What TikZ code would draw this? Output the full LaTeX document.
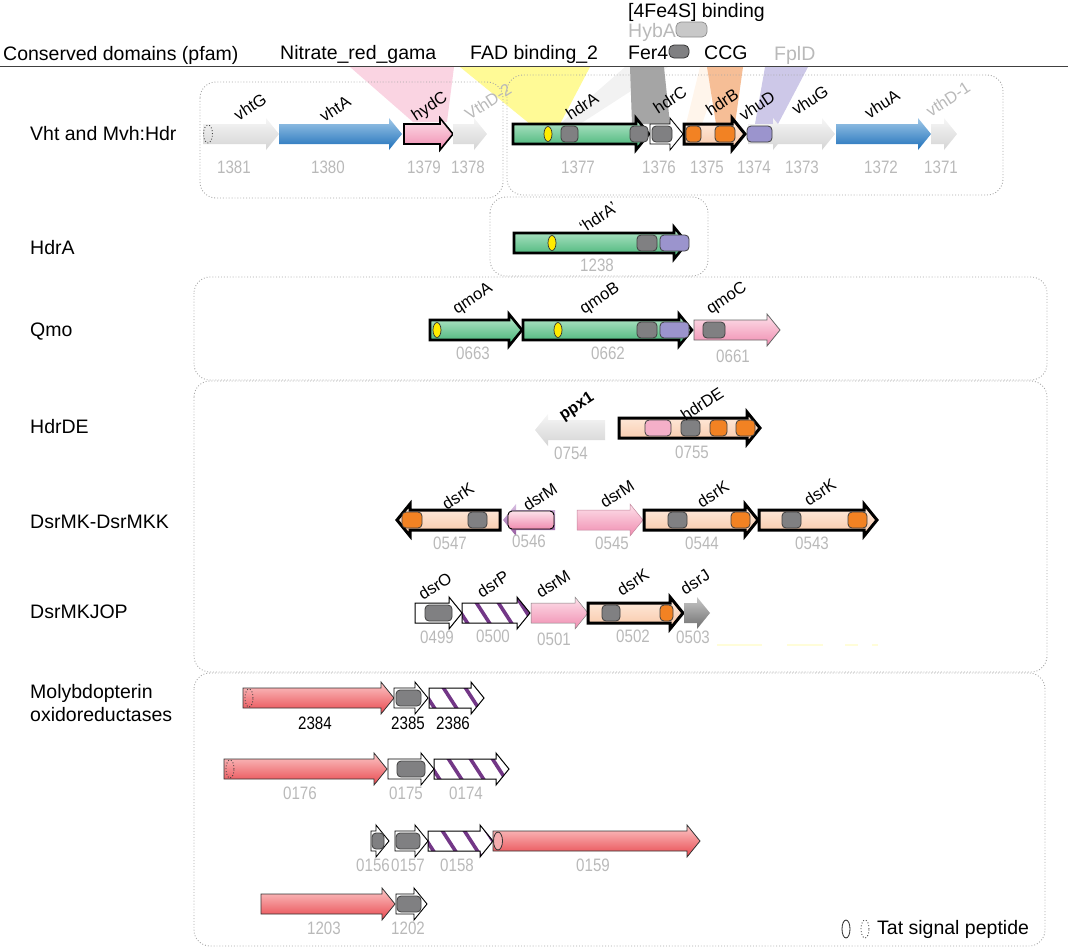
\documentclass[tikz,border=0pt]{standalone}
\usepackage{fontspec}
\setmainfont{Liberation Sans}
\newfontfamily\numfont[FakeStretch=0.84]{Liberation Sans}
\definecolor{grnT}{RGB}{190,234,208}
\definecolor{grnB}{RGB}{60,176,112}
\definecolor{pnkT}{RGB}{253,225,234}
\definecolor{pnkB}{RGB}{240,140,176}
\definecolor{pchT}{RGB}{255,238,226}
\definecolor{pchB}{RGB}{248,198,165}
\definecolor{bluT}{RGB}{160,200,232}
\definecolor{bluB}{RGB}{30,112,186}
\definecolor{gryT}{RGB}{246,246,246}
\definecolor{gryB}{RGB}{212,212,212}
\definecolor{dgrT}{RGB}{200,200,200}
\definecolor{dgrB}{RGB}{110,110,110}
\definecolor{redT}{RGB}{252,200,200}
\definecolor{redB}{RGB}{232,72,78}
\definecolor{prpT}{RGB}{215,190,225}
\definecolor{prpB}{RGB}{150,90,160}
\definecolor{orng}{RGB}{242,130,35}
\definecolor{gbox}{RGB}{128,128,130}
\definecolor{lbox}{RGB}{200,200,200}
\definecolor{pbox}{RGB}{155,148,205}
\definecolor{ylw}{RGB}{255,236,0}
\definecolor{numgrey}{RGB}{185,185,185}
\definecolor{hatchc}{RGB}{115,55,135}
\definecolor{wpink}{RGB}{250,212,226}
\definecolor{wyel}{RGB}{255,250,150}
\definecolor{wgrey}{RGB}{165,165,165}
\definecolor{worng}{RGB}{246,190,150}
\definecolor{wprp}{RGB}{205,200,232}
\newcommand{\rgene}[4][]{\path[#1] (#2,#4-10) -- (#3-13,#4-10) -- (#3-13,#4-16) -- (#3,#4) -- (#3-13,#4+16) -- (#3-13,#4+10) -- (#2,#4+10) -- cycle;}
\newcommand{\lgene}[4][]{\path[#1] (#2,#4) -- (#2+13,#4-16) -- (#2+13,#4-10) -- (#3,#4-10) -- (#3,#4+10) -- (#2+13,#4+10) -- (#2+13,#4+16) -- cycle;}
\newcommand{\hgene}[3]{%
  \begin{scope}
    \clip (#1,#3-10) -- (#2-13,#3-10) -- (#2-13,#3-16) -- (#2,#3) -- (#2-13,#3+16) -- (#2-13,#3+10) -- (#1,#3+10) -- cycle;
    \fill[white] (#1-1,#3-17) rectangle (#2+1,#3+17);
    \foreach \s in {0,22,...,132} {\draw[hatchc, line width=3.6pt] (#1+\s-12,#3-17) -- ++(22,34);}
  \end{scope}
  \rgene[draw=black, line width=1pt]{#1}{#2}{#3}}
\newcommand{\ibox}[4]{\draw[draw=black!75, line width=0.8pt, rounded corners=4pt, fill=#4] (#1,#3-8) rectangle (#2,#3+8);}
\newcommand{\yoval}[2]{\draw[draw=black!80, line width=0.7pt, fill=ylw] (#1,#2) ellipse [x radius=4pt, y radius=7.5pt];}
\tikzset{
  lab/.style={font=\fontsize{19.5}{23}\selectfont, inner sep=0pt},
  glab/.style={font=\fontsize{16.5}{18}\selectfont, rotate=33, inner sep=0pt},
  num/.style={font=\numfont\fontsize{18}{20}\selectfont, text=numgrey, inner sep=0pt},
  greyg/.style={top color=gryT, bottom color=gryB},
  dgreyg/.style={top color=dgrT, bottom color=dgrB},
  blueg/.style={top color=bluT, bottom color=bluB},
  greeng/.style={top color=grnT, bottom color=grnB},
  pinkg/.style={top color=pnkT, bottom color=pnkB},
  peachg/.style={top color=pchT, bottom color=pchB},
  redg/.style={top color=redT, bottom color=redB, draw=black!80, line width=0.8pt},
  purpg/.style={top color=prpT, bottom color=prpB},
  thickout/.style={draw=black, line width=2.6pt},
  grpbox/.style={draw=gray!70, dotted, line width=0.9pt, rounded corners=16pt},
  tatd/.style={draw=black!75, dotted, line width=0.9pt},
}
\begin{document}
\begin{tikzpicture}[x=1pt, y=-1pt]
\useasboundingbox (0,0) rectangle (1068,951);
% wedges (conserved domains)
\fill[wpink] (350,67) -- (454,67) -- (447,122) -- (413,122) -- cycle;
\fill[wyel] (460,67) -- (590,67) -- (560,124) -- (530,124) -- cycle;
\fill[gray!10] (625,67) -- (668,67) -- (580,124) -- (560,124) -- cycle;
\fill[orange!8] (700,67) -- (722,67) -- (702,124) -- (686,124) -- cycle;
\fill[wgrey] (630,67) -- (664,67) -- (670,124) -- (632,124) -- cycle;
\fill[worng] (707,67) -- (743,67) -- (735,124) -- (716,124) -- cycle;
\fill[wprp] (765,67) -- (808,67) -- (778,124) -- (755,124) -- cycle;
% header
\draw[black!75, line width=1pt] (0,66) -- (1068,66);
\node[lab, anchor=base west] (hcd) at (3,60) {Conserved domains (pfam)};
\node[lab, anchor=base west] (hnr) at (280,59) {Nitrate\_red\_gama};
\node[lab, anchor=base west] (hfad) at (470,59) {FAD binding\_2};
\node[lab, anchor=base west] (hfe) at (628,17) {[4Fe4S] binding};
\node[lab, anchor=base west, text=numgrey] (hhyb) at (628,37) {HybA};
\draw[draw=black!45, fill=lbox, line width=0.7pt, rounded corners=5pt] (676,22) rectangle (707,37);
\node[lab, anchor=base west] (hfer) at (628,59) {Fer4};
\draw[draw=black!80, fill=gbox, line width=0.8pt, rounded corners=5pt] (669,45) rectangle (689,58);
\node[lab, anchor=base west] (hccg) at (704,59) {CCG};
\node[lab, anchor=base west, text=numgrey] (hfpl) at (774,60) {FplD};
% group boxes
\draw[grpbox] (200,82) rectangle (503,198);
\draw[grpbox] (507,75) rectangle (1003,195);
\draw[grpbox] (490,197) rectangle (708,276);
\draw[grpbox] (194,277) rectangle (1047,380);
\draw[grpbox] (194,381) rectangle (1047,672);
\draw[grpbox] (194,673) rectangle (1045,946);
% row labels
\node[lab, anchor=west] (rvht) at (30,134) {Vht and Mvh:Hdr};
\node[lab, anchor=west] (rhdra) at (30,248) {HdrA};
\node[lab, anchor=west] (rqmo) at (30,332) {Qmo};
\node[lab, anchor=west] (rhdrde) at (30,427) {HdrDE};
\node[lab, anchor=west] (rdsrmk) at (30,522) {DsrMK-DsrMKK};
\node[lab, anchor=west] (rdsrmkj) at (30,612) {DsrMKJOP};
\node[lab, anchor=west, align=left] (rmoly) at (30,703) {Molybdopterin\\oxidoreductases};
% ---- Row 1 (y=134)
\rgene[greyg]{203}{279}{134}
\draw[tatd] (208,134) ellipse [x radius=4.5pt, y radius=9pt];
\rgene[blueg]{279}{402}{134}
\rgene[pinkg, draw=black, line width=1.6pt]{404}{453}{134}
\rgene[greyg]{453}{487}{134}
\rgene[greeng, thickout]{513}{649}{134}
\yoval{548}{134}
\ibox{561}{578}{134}{gbox}
\ibox{630}{648}{134}{gbox}
\rgene[fill=white, draw=black, line width=0.9pt]{650}{683}{134}
\ibox{652}{672}{134}{gbox}
\rgene[peachg, draw=black, line width=3pt]{684}{745}{134}
\ibox{686}{701}{134}{orng}
\ibox{715}{735}{134}{orng}
\rgene[greyg]{748}{786}{134}
\ibox{747}{772}{134}{pbox}
\rgene[greyg]{774}{835}{134}
\rgene[blueg]{836}{931}{134}
\rgene[greyg]{931}{957}{134}
\node[glab] (gvhtG) at (250,107) {vhtG};
\node[glab] (gvhtA) at (335,109) {vhtA};
\node[glab] (ghydC) at (430,107) {hydC};
\node[glab, text=numgrey] (gvthD2) at (488,102) {VthD-2};
\node[glab] (ghdrA) at (582,106) {hdrA};
\node[glab] (ghdrC) at (670,100) {hdrC};
\node[glab] (ghdrB) at (722,102) {hdrB};
\node[glab] (gvhuD) at (757,106) {vhuD};
\node[glab] (gvhuG) at (810,100) {vhuG};
\node[glab] (gvhuA) at (882,104) {vhuA};
\node[glab, text=numgrey] (gvthD1) at (948,99) {vthD-1};
\node[num] (n1381) at (234,167) {1381};
\node[num] (n1380) at (328,167) {1380};
\node[num] (n1379) at (424,167) {1379};
\node[num] (n1378) at (468,167) {1378};
\node[num] (n1377) at (578,167) {1377};
\node[num] (n1376) at (659,167) {1376};
\node[num] (n1375) at (707,167) {1375};
\node[num] (n1374) at (754,167) {1374};
\node[num] (n1373) at (802,167) {1373};
\node[num] (n1372) at (881,167) {1372};
\node[num] (n1371) at (941,167) {1371};
% ---- HdrA (y=243)
\rgene[greeng, thickout]{514}{687}{243}
\yoval{552}{243}
\ibox{637}{657}{243}{gbox}
\ibox{660}{689}{243}{pbox}
\node[glab] (ghdrAp) at (598,217) {‘hdrA’};
\node[num] (n1238) at (597,265) {1238};
% ---- Qmo (y=330)
\rgene[greeng, thickout]{430}{522}{330}
\yoval{437}{330}
\rgene[greeng, thickout]{523}{692}{330}
\yoval{558}{330}
\ibox{637}{657}{330}{gbox}
\ibox{660}{689}{330}{pbox}
\rgene[pinkg, draw=black!60, line width=0.8pt]{694}{780}{330}
\ibox{703}{725}{330}{gbox}
\node[glab] (gqmoA) at (473,299) {qmoA};
\node[glab] (gqmoB) at (600,299) {qmoB};
\node[glab] (gqmoC) at (727,299) {qmoC};
\node[num] (n0663) at (473,353) {0663};
\node[num] (n0662) at (608,353) {0662};
\node[num] (n0661) at (733,356) {0661};
% ---- HdrDE (y=428)
\lgene[greyg]{535}{605}{430}
\rgene[peachg, draw=black, line width=3pt]{619}{760}{428}
\ibox{645}{671}{428}{pnkB!70}
\ibox{681}{700}{428}{gbox}
\ibox{710}{727}{428}{orng}
\ibox{736}{755}{428}{orng}
\node[glab, font=\bfseries\fontsize{16}{18}\selectfont] (gppx1) at (577,407) {ppx1};
\node[glab] (ghdrDE) at (702,404) {hdrDE};
\node[num] (n0754) at (571,453) {0754};
\node[num] (n0755) at (692,452) {0755};
% ---- DsrMK-DsrMKK (y=520)
\lgene[peachg, draw=black, line width=3pt]{397}{500}{520}
\ibox{402}{422}{520}{orng}
\ibox{468}{487}{520}{gbox}
\lgene[purpg]{503}{555}{520}
\draw[draw=black, line width=0.9pt, rounded corners=4pt, top color=pnkT, bottom color=pnkB] (508,511) rectangle (554,529);
\rgene[pinkg, draw=pnkB!60!gray, line width=0.5pt]{577}{643}{520}
\rgene[peachg, draw=black, line width=3pt]{644}{758}{520}
\ibox{668}{687}{520}{gbox}
\ibox{731}{750}{520}{orng}
\rgene[peachg, draw=black, line width=3pt]{759}{877}{520}
\ibox{782}{801}{520}{gbox}
\ibox{848}{867}{520}{orng}
\node[glab] (gdsrK1) at (458,496) {dsrK};
\node[glab] (gdsrM1) at (540,497) {dsrM};
\node[glab] (gdsrM2) at (617,494) {dsrM};
\node[glab] (gdsrK2) at (713,494) {dsrK};
\node[glab] (gdsrK3) at (820,492) {dsrK};
\node[num] (n0547) at (450,543) {0547};
\node[num] (n0546) at (529,541) {0546};
\node[num] (n0545) at (612,543) {0545};
\node[num] (n0544) at (702,543) {0544};
\node[num] (n0543) at (812,543) {0543};
% ---- DsrMKJOP (y=613)
\rgene[fill=white, draw=black, line width=1pt]{415}{462}{613}
\ibox{425}{452}{613}{gbox}
\hgene{462}{530}{613}
\rgene[pinkg, draw=gray, line width=0.5pt]{531}{588}{613}
\rgene[peachg, draw=black, line width=3pt]{588}{683}{613}
\ibox{602}{620}{613}{gbox}
\ibox{660}{673}{613}{orng}
\rgene[dgreyg]{684}{710}{613}
\node[glab] (gdsrO) at (435,586) {dsrO};
\node[glab] (gdsrP) at (493,584) {dsrP};
\node[glab] (gdsrM3) at (553,584) {dsrM};
\node[glab] (gdsrK4) at (633,582) {dsrK};
\node[glab] (gdsrJ) at (695,582) {dsrJ};
\node[num] (n0499) at (437,637) {0499};
\node[num] (n0500) at (493,636) {0500};
\node[num] (n0501) at (554,639) {0501};
\node[num] (n0502) at (633,636) {0502};
\node[num] (n0503) at (693,637) {0503};
\draw[yellow!15, line width=2pt] (717,645) -- (762,645) (787,645) -- (823,645) (845,645) -- (858,645) (872,645) -- (878,645);
% ---- Molybdopterin rows
\rgene[redg]{243}{394}{698}
\draw[tatd] (249,698) ellipse [x radius=4pt, y radius=9pt];
\rgene[fill=white, draw=black, line width=0.9pt]{394}{428}{698}
\ibox{396}{421}{698}{gbox}
\hgene{429}{484}{698}
\node[num, text=black] (n2384) at (315,723) {2384};
\node[num, text=black] (n2385) at (408,723) {2385};
\node[num, text=black] (n2386) at (453,723) {2386};
\rgene[redg]{224}{387}{769}
\draw[tatd] (230,769) ellipse [x radius=4pt, y radius=9pt];
\rgene[fill=white, draw=black, line width=0.9pt]{388}{434}{769}
\ibox{397}{425}{769}{gbox}
\hgene{434}{509}{769}
\node[num] (n0176) at (300,793) {0176};
\node[num] (n0175) at (406,793) {0175};
\node[num] (n0174) at (466,793) {0174};
\rgene[fill=white, draw=black, line width=0.9pt]{371}{389}{841}
\ibox{372}{384}{841}{gbox}
\rgene[fill=white, draw=black, line width=0.9pt]{395}{428}{841}
\ibox{396}{420}{841}{gbox}
\hgene{428}{493}{841}
\rgene[redg]{493}{700}{841}
\draw[draw=black!80, line width=0.8pt, fill=redB!45] (498,841) ellipse [x radius=4.5pt, y radius=9pt];
\node[num] (n0156) at (373,865) {0156};
\node[num] (n0157) at (408,865) {0157};
\node[num] (n0158) at (457,865) {0158};
\node[num] (n0159) at (593,865) {0159};
\rgene[redg]{261}{395}{904}
\rgene[fill=white, draw=black, line width=0.9pt]{396}{427}{904}
\ibox{397}{421}{904}{gbox}
\node[num] (n1203) at (324,928) {1203};
\node[num] (n1202) at (408,928) {1202};
% legend
\draw[draw=black!85, line width=0.8pt] (846,929) ellipse [x radius=4pt, y radius=9pt];
\draw[tatd] (865,929) ellipse [x radius=4pt, y radius=9pt];
\node[lab, anchor=west] (ltat) at (877,929) {Tat signal peptide};
\end{tikzpicture}
\end{document}
